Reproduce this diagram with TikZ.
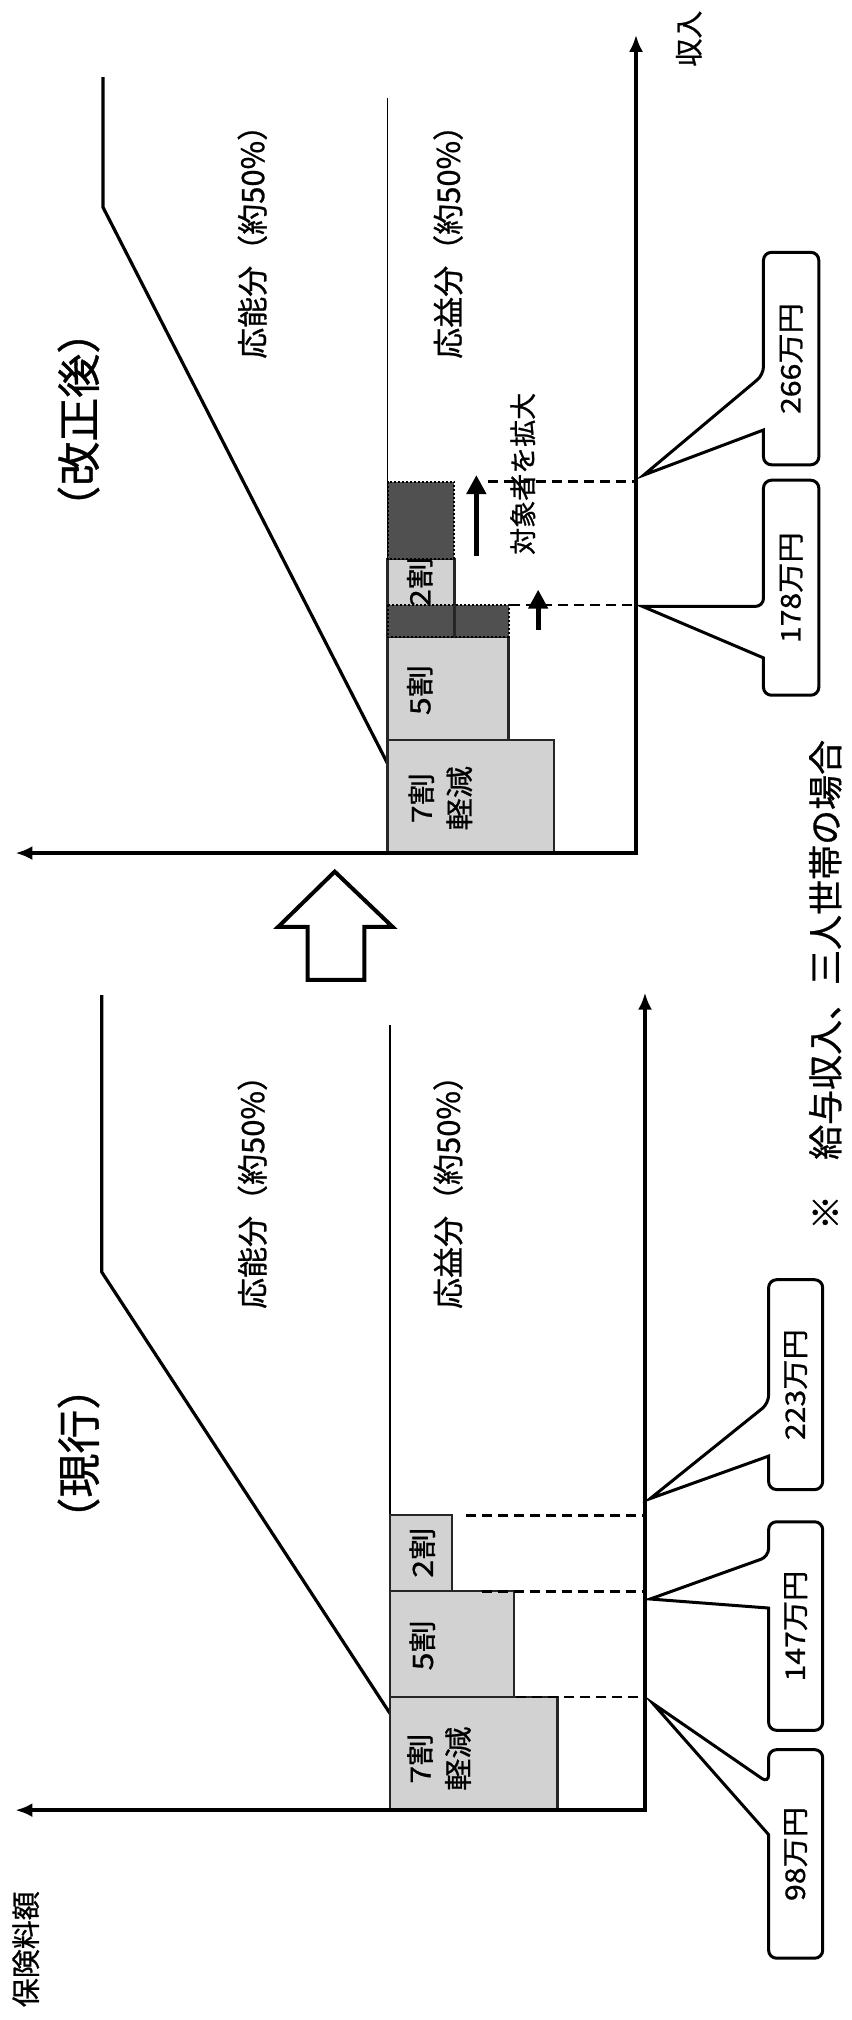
\documentclass[tikz,border=0pt]{standalone}
\usepackage{fontspec}
\usepackage{graphicx}
\setmainfont[FakeBold=0.8]{Noto Sans CJK JP}
\newfontfamily\numfont[FakeStretch=1.12,FakeBold=0.8]{Noto Sans CJK JP}
\newfontfamily\boxfont[FakeStretch=1.15,FakeBold=0.8]{Noto Sans CJK JP}
\usetikzlibrary{arrows.meta}
\definecolor{lightbox}{HTML}{D2D2D2}
\definecolor{darkbox}{HTML}{505050}
\newcommand\pricebox[8]{%
  \draw[callout] (#1,#6) [rounded corners=8pt] -- (#1,#4) -- (#2,#4) -- (#2,#3) -- (#1,#3) -- (#1,#5) [sharp corners] -- (#7,#8) -- cycle;}
\begin{document}
\begin{tikzpicture}[x=1.28744pt, y=-1.28744pt,
  axis/.style={line width=4pt, {Latex[length=17pt,width=14pt]}-{Latex[length=17pt,width=14pt]}},
  curve/.style={line width=3.2pt, line join=round},
  divider/.style={line width=1.8pt},
  lbox/.style={draw=black!85, line width=2.2pt, fill=lightbox},
  dbox/.style={draw=black, dotted, line width=2pt, fill=darkbox},
  guide/.style={dash pattern=on 10pt off 6pt, line width=2.4pt},
  callout/.style={draw=black, line width=3pt, fill=white, line join=miter},
  uparrow/.style={-{Triangle[length=19pt,width=19pt]}, line width=5pt},
  hollow/.style={draw=black, line width=4pt, line join=miter, fill=white},
  lab/.style={rotate=90, inner sep=0pt, font=\fontsize{31}{31}\selectfont},
  ttl/.style={rotate=90, inner sep=0pt, font=\fontsize{44}{44}\selectfont},
  num/.style={rotate=90, inner sep=0pt, font=\numfont\fontsize{27}{27}\selectfont},
  bxl/.style={rotate=90, inner sep=0pt, align=center, font=\boxfont\fontsize{28}{38}\selectfont}
]
\useasboundingbox[fill=white] (0,0) rectangle (661,1569);

% ================= top panel (after revision) =================
\draw[divider] (301,76) -- (301,662.6);
\draw[curve] (80,60) -- (80,161) -- (301,593);
% boxes
\draw[lbox] (301,575) rectangle (430,662.6);
\draw[lbox] (301,495) rectangle (395,575);
\draw[lbox] (301,434) rectangle (353,495);
\draw[dbox] (301,470) rectangle (395,495);
\draw[draw=black!85, line width=2.2pt] (353,470) -- (353,495);
\draw[dbox] (301,374) rectangle (353,434);
\node[bxl] (a7) at (342,620) {7割\\軽減};
\node[bxl] (a5) at (326,536) {5割};
\node[bxl] (a2) at (326,452) {2割};
% guides
\draw[guide] (379,374) -- (494,374);
\draw[guide] (396,470) -- (494,470);
\draw[uparrow] (370,432) -- (370,369);
\draw[uparrow] (418,489) -- (418,458);
\node[lab, font=\fontsize{27}{27}\selectfont] (expand) at (406,368) {対象者を拡大};
% axes
\draw[axis] (12,662.6) -- (494,662.6) -- (494,27);
% labels
\node[ttl] (title2) at (61,326) {（改正後）};
\node[lab] (no2) at (196,182) {応能分（約50\%）};
\node[lab] (eki2) at (348,182) {応益分（約50\%）};
\node[lab, font=\fontsize{28}{28}\selectfont] (income) at (535,30) {収入};
% callouts
\pricebox{593}{636}{196}{361}{291}{334}{500}{369}
\node[num] (p266) at (614.5,278.5) {266万円};
\pricebox{593}{636}{373}{540}{471}{511}{499}{471}
\node[num] (p178) at (614.5,456.5) {178万円};

% ================= hollow arrow =================
\draw[hollow] (260,677) -- (305,720) -- (283,720) -- (283,761) -- (239,761) -- (239,720) -- (216,720) -- cycle;

% ================= bottom panel (current) =================
\draw[divider] (303,796) -- (303,1406);
\draw[curve] (79,773) -- (79,988) -- (303,1331);
\draw[lbox] (303,1318) rectangle (433,1406);
\draw[lbox] (303,1236) rectangle (399,1318);
\draw[lbox] (303,1177) rectangle (351,1236);
\node[bxl] (b7) at (341,1366) {7割\\軽減};
\node[bxl] (b5) at (328,1278) {5割};
\node[bxl] (b2) at (328,1206) {2割};
\draw[guide] (362,1177) -- (501,1177);
\draw[guide] (374,1236) -- (501,1236);
\draw[guide] (401,1318) -- (501,1318);
\draw[axis] (12,1406) -- (501,1406) -- (501,771);
\node[ttl] (title1) at (61,1129) {（現行）};
\node[lab] (no1) at (196,920) {応能分（約50\%）};
\node[lab] (eki1) at (348,920) {応益分（約50\%）};
\node[lab, font=\fontsize{29}{29}\selectfont] (premium) at (20,1514) {保険料額};
\pricebox{597}{639}{994}{1157}{1090}{1131}{505}{1164}
\node[num] (p223) at (618,1075.5) {223万円};
\pricebox{597}{639}{1182}{1344}{1209}{1249}{505}{1242}
\node[num] (p147) at (618,1263) {147万円};
\pricebox{597}{639}{1359}{1521}{1385}{1425}{507}{1323}
\node[num] (p98) at (618,1440) {98万円};

% note
\node[lab, font=\fontsize{35}{35}\selectfont] (note) at (641,765) {※　給与収入、三人世帯の場合};
\end{tikzpicture}
\end{document}
